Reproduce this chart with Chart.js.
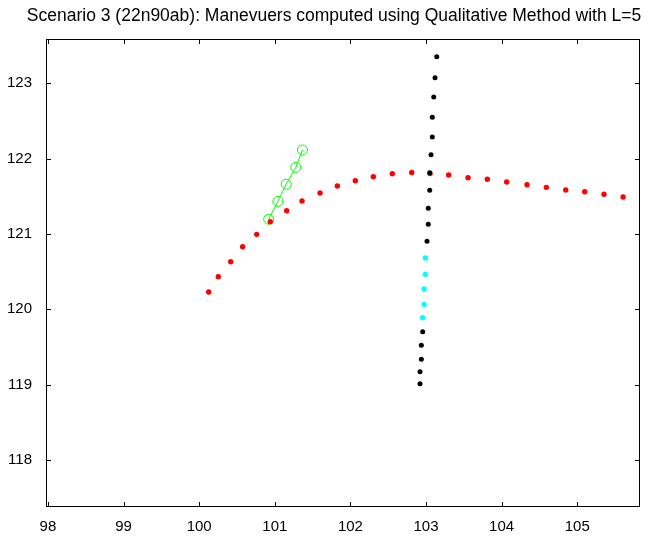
<!DOCTYPE html>
<html>
<head>
<meta charset="utf-8">
<script src="https://cdn.jsdelivr.net/npm/chart.js@4.4.1/dist/chart.umd.min.js"></script>
<style>
html,body{margin:0;padding:0;background:#fff;}
#wrap{width:648px;height:536px;}
</style>
</head>
<body>
<div id="wrap"><canvas id="c" width="648" height="536"></canvas></div>
<script>
const titleText = "Scenario 3 (22n90ab): Manevuers computed using Qualitative Method with L=5";
const xTicks = [98, 99, 100, 101, 102, 103, 104, 105];
const yTicks = [118, 119, 120, 121, 122, 123];

const redX = [100.126, 100.253, 100.417, 100.575, 100.761, 100.940, 101.157, 101.360, 101.598, 101.827, 102.065, 102.303, 102.554, 102.811, 103.053, 103.300, 103.556, 103.811, 104.067, 104.336, 104.591, 104.848, 105.099, 105.354, 105.606];
const redY = [120.229, 120.433, 120.632, 120.831, 120.995, 121.163, 121.309, 121.438, 121.544, 121.637, 121.707, 121.760, 121.800, 121.816, 121.803, 121.783, 121.747, 121.726, 121.690, 121.654, 121.619, 121.584, 121.561, 121.527, 121.491];

const blackX = [103.142, 103.119, 103.102, 103.083, 103.083, 103.066, 103.049, 103.049, 103.030, 103.030, 103.013, 102.956, 102.938, 102.938, 102.921, 102.921];
const blackY = [123.353, 123.074, 122.818, 122.549, 122.287, 122.052, 121.813, 121.580, 121.341, 121.128, 120.903, 119.703, 119.522, 119.336, 119.171, 119.012];

const cyanX = [102.991, 102.991, 102.974, 102.974, 102.956];
const cyanY = [120.681, 120.464, 120.269, 120.066, 119.888];

const greenX = [101.366, 101.278, 101.151, 101.041, 100.919];
const greenY = [122.115, 121.885, 121.661, 121.432, 121.196];

const xMin = 97.974, xMax = 105.83;
const yMin = 117.376, yMax = 123.588;

function pts(xs, ys){ return xs.map((x,i)=>({x:x, y:ys[i]})); }

const FONT = "'Liberation Sans', Arial, Helvetica, sans-serif";

const boxPlugin = {
  id: 'boxTicks',
  afterDatasetsDraw(chart){
    const ctx = chart.ctx;
    const a = chart.chartArea;
    const xs = chart.scales.x, ys = chart.scales.y;
    ctx.save();
    ctx.strokeStyle = '#000';
    ctx.lineWidth = 1;
    ctx.strokeRect(Math.round(a.left)+0.5, Math.round(a.top)+0.5, Math.round(a.right-a.left)-1, Math.round(a.bottom-a.top)-1);
    const L = 5;
    ctx.beginPath();
    xTicks.forEach(v=>{
      const px = Math.round(xs.getPixelForValue(v))+0.5;
      ctx.moveTo(px, a.bottom); ctx.lineTo(px, a.bottom-L);
      ctx.moveTo(px, a.top); ctx.lineTo(px, a.top+L);
    });
    yTicks.forEach(v=>{
      const py = Math.round(ys.getPixelForValue(v))+0.5;
      ctx.moveTo(a.left, py); ctx.lineTo(a.left+L, py);
      ctx.moveTo(a.right, py); ctx.lineTo(a.right-L, py);
    });
    ctx.stroke();
    // title (real text), centred like the reference
    ctx.fillStyle = '#000';
    ctx.font = "17.5px " + FONT;
    ctx.textAlign = 'center';
    ctx.textBaseline = 'middle';
    ctx.fillText(titleText, 334, 16);
    ctx.restore();
  }
};

new Chart(document.getElementById('c'), {
  type: 'scatter',
  data: {
    datasets: [
      { label:'green', data: pts(greenX, greenY), showLine:true, borderColor:'#00ff00', backgroundColor:'rgba(0,0,0,0)', borderWidth:1, pointRadius:5, pointBorderWidth:1, pointBorderColor:'#00ff00', pointBackgroundColor:'rgba(0,0,0,0)', order:4 },
      { label:'red', data: pts(redX, redY), showLine:false, pointRadius:2.7, pointBorderWidth:0, pointBackgroundColor:'#ff0000', backgroundColor:'#ff0000', borderColor:'#ff0000', order:3 },
      { label:'black', data: pts(blackX, blackY), showLine:false, pointRadius:2.5, pointBorderWidth:0, pointBackgroundColor:'#000000', backgroundColor:'#000', borderColor:'#000', order:2 },
      { label:'cyan', data: pts(cyanX, cyanY), showLine:false, pointRadius:2.7, pointBorderWidth:0, pointBackgroundColor:'#00ffff', backgroundColor:'#00ffff', borderColor:'#00ffff', order:1 }
    ]
  },
  options: {
    responsive:false,
    animation:false,
    devicePixelRatio:1,
    layout:{ padding:{ left:0, right:8, top:39, bottom:0 } },
    plugins:{
      legend:{ display:false },
      tooltip:{ enabled:false },
      title:{ display:false }
    },
    scales:{
      x:{
        type:'linear', min:xMin, max:xMax,
        grid:{ display:false }, border:{ display:false },
        afterBuildTicks(s){ s.ticks = xTicks.map(v=>({value:v})); },
        afterFit(s){ s.height = 29; },
        ticks:{ color:'#000', padding:3, maxRotation:0, autoSkip:false, font:{ family:FONT, size:15 }, callback:(v)=>String(v) }
      },
      y:{
        type:'linear', min:yMin, max:yMax,
        grid:{ display:false }, border:{ display:false },
        afterBuildTicks(s){ s.ticks = yTicks.map(v=>({value:v})); },
        afterFit(s){ s.width = 46; },
        ticks:{ color:'#000', padding:6, autoSkip:false, font:{ family:FONT, size:15 }, callback:(v)=>String(v) }
      }
    }
  },
  plugins:[boxPlugin]
});
</script>
</body>
</html>
